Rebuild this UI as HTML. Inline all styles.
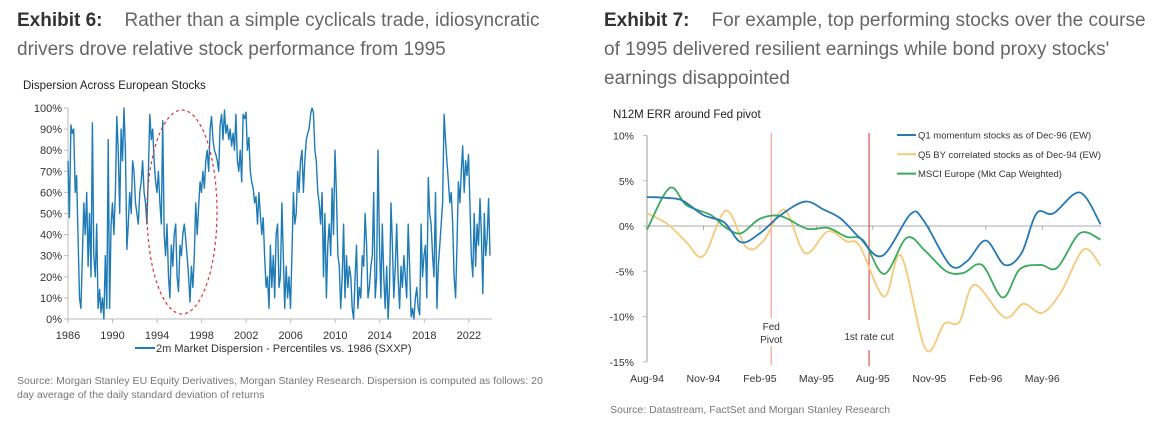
<!DOCTYPE html>
<html><head><meta charset="utf-8"><style>
body{margin:0;width:1166px;height:425px;background:#fff;font-family:"Liberation Sans",sans-serif;position:relative;overflow:hidden}
.t{position:absolute;font-size:19px;color:#666;line-height:29px;letter-spacing:0px}
.t b{color:#333;margin-right:22px}
.src{position:absolute;font-size:10.5px;color:#777;line-height:14px}
svg{position:absolute;left:0;top:0}
</style></head><body>
<div class="t" style="left:17px;top:6px;width:560px"><b>Exhibit 6:</b>Rather than a simple cyclicals trade, idiosyncratic drivers drove relative stock performance from 1995</div>
<div class="t" style="left:604px;top:6px;width:545px"><b>Exhibit 7:</b>For example, top performing stocks over the course of 1995 delivered resilient earnings while bond proxy stocks' earnings disappointed</div>
<div class="src" style="left:17px;top:374px;width:530px">Source: Morgan Stanley EU Equity Derivatives, Morgan Stanley Research. Dispersion is computed as follows: 20 day average of the daily standard deviation of returns</div>
<div class="src" style="left:610px;top:403px">Source: Datastream, FactSet and Morgan Stanley Research</div>
<svg id="s" width="1166" height="425"></svg>
<script>
const dispYears=[1986,1990,1994,1998,2002,2006,2010,2014,2018,2022];
const dispTicks=[0,10,20,30,40,50,60,70,80,90,100];
const dispValues=[75,48,92,88,90,60,68,40,10,5,30,55,40,60,25,50,20,93,30,20,45,5,14,3,10,0,30,5,85,5,45,55,40,60,96,80,50,90,75,100,80,33,45,60,50,75,70,55,50,45,60,65,75,60,55,45,70,97,85,90,75,65,60,70,55,45,94,40,30,45,20,10,35,25,40,45,20,13,35,30,40,45,38,30,20,8,25,15,30,55,40,53,65,60,70,62,75,80,70,90,96,85,80,78,75,70,92,97,85,99,88,92,85,90,82,88,80,97,75,70,80,65,97,95,98,80,86,70,65,62,55,58,45,60,50,40,48,30,15,20,5,35,15,30,10,40,45,15,20,55,30,5,25,10,20,5,30,60,45,50,70,60,75,80,60,75,85,88,90,97,100,98,80,75,60,55,45,60,20,50,10,35,45,30,62,40,80,60,30,25,5,20,45,10,30,15,25,20,5,0,20,35,5,15,10,30,25,50,35,10,15,25,30,60,10,20,80,35,10,45,20,5,25,0,15,55,35,10,25,45,20,5,25,15,30,20,10,45,25,1,5,0,10,15,5,2,45,20,30,35,10,67,50,45,30,20,60,5,25,35,45,55,97,85,75,65,55,60,45,20,10,35,65,55,70,82,60,75,68,78,55,30,20,50,25,45,35,57,40,12,50,30,38,57,30];
const dispStart=1986, dispEnd=2023.9;

const errMonthLabels=["Aug-94","Nov-94","Feb-95","May-95","Aug-95","Nov-95","Feb-96","May-96"];
const errTicks=[10,5,0,-5,-10,-15];
const q1Months=[0,1.1,1.9,3.0,4.1,5.0,6.0,7.1,8.4,9.4,10.3,11.3,12.5,14.0,14.7,16.1,17.0,18.0,19.0,19.9,20.7,21.6,23.0,24.1];
const q1Values=[3.2,3.1,2.8,1.2,0.4,-1.8,-0.8,1.2,2.7,1.8,0.8,-1.3,-3.3,1.3,0.6,-4.3,-3.9,-1.6,-4.3,-3.0,1.4,1.4,3.7,0.2];
const q5Months=[0,1.1,2.1,3.0,4.2,5.3,6.2,7.3,8.4,9.6,10.6,11.3,12.6,13.5,14.8,15.8,16.6,17.4,19.0,20.0,21.0,22.0,23.2,24.1];
const q5Values=[1.4,0.2,-1.8,-3.3,1.7,-2.4,-1.6,1.8,-3.0,-0.6,-1.7,-2.2,-7.8,-3.3,-13.6,-10.8,-10.6,-6.5,-10.1,-8.6,-9.6,-7.3,-2.6,-4.4];
const msciMonths=[0,1.2,2.1,3.4,4.2,5.0,6.0,7.1,8.5,9.6,10.6,11.5,12.6,13.8,14.8,15.9,16.8,17.8,18.9,19.8,20.9,21.8,23.0,24.1];
const msciValues=[-0.4,4.2,2.3,1.2,-0.2,-0.8,0.8,1.1,-0.3,-0.2,-1.2,-1.6,-5.3,-1.3,-2.8,-5.0,-5.2,-4.3,-7.9,-4.8,-4.3,-4.6,-0.8,-1.5];
const fedPivotMonth=6.6, rateCutMonth=11.8;

const NS="http://www.w3.org/2000/svg", svg=document.getElementById('s');
function mk(t,a,txt){const e=document.createElementNS(NS,t);for(const k in a)e.setAttribute(k,a[k]);if(txt!=null)e.textContent=txt;svg.appendChild(e);return e;}
const lx=y=>68+(y-1986)*(490-68)/(2023.9-1986), ly=v=>319-v*2.11;
let e=mk('text',{x:23,y:89,'font-size':11.5,fill:'#222'},'Dispersion Across European Stocks');


dispTicks.forEach(t=>{let e=mk('text',{x:62,y:ly(t)+4,'font-size':11,fill:'#333','text-anchor':'end'},t+'%');


mk('line',{x1:64,x2:68,y1:ly(t),y2:ly(t),stroke:'#bbb'});});
mk('line',{x1:68,x2:68,y1:ly(100),y2:ly(0),stroke:'#bbb'});
mk('line',{x1:68,x2:492,y1:ly(0),y2:ly(0),stroke:'#bbb'});
dispYears.forEach(y=>{let e=mk('text',{x:lx(y),y:339,'font-size':11,fill:'#333','text-anchor':'middle'},y);


mk('line',{x1:lx(y),x2:lx(y),y1:319,y2:323,stroke:'#bbb'});});
let pts=dispValues.map((v,i)=>lx(dispStart+i*(dispEnd-dispStart)/(dispValues.length-1)).toFixed(1)+','+ly(v).toFixed(1));
e=mk('polyline',{points:pts.join(' '),fill:'none',stroke:'#1f7bb6','stroke-width':1.4,'stroke-linejoin':'round'});


e=mk('ellipse',{cx:182,cy:212,rx:35,ry:102,fill:'none',stroke:'#e03030','stroke-width':1.2,'stroke-dasharray':'3,3'});


mk('line',{x1:135,x2:155,y1:348,y2:348,stroke:'#1f7bb6','stroke-width':2});
e=mk('text',{x:156,y:352,'font-size':11,fill:'#333'},'2m Market Dispersion - Percentiles vs. 1986 (SXXP)');


const rx=m=>647+m*18.82, ry=v=>226-v*9.05;
e=mk('text',{x:613,y:118,'font-size':11.5,fill:'#222'},'N12M ERR around Fed pivot');


mk('line',{x1:647,x2:647,y1:ry(10),y2:ry(-15),stroke:'#bbb','stroke-width':1.5});
errTicks.forEach(t=>{let e=mk('text',{x:634,y:ry(t)+4,'font-size':10.5,fill:'#333','text-anchor':'end'},t+'%');


mk('line',{x1:643,x2:647,y1:ry(t),y2:ry(t),stroke:'#bbb'});});
mk('line',{x1:647,x2:1102,y1:ry(0),y2:ry(0),stroke:'#aaa'});
errMonthLabels.forEach((l,i)=>{let e=mk('text',{x:rx(i*3),y:382,'font-size':10.5,fill:'#333','text-anchor':'middle'},l);


mk('line',{x1:rx(i*3),x2:rx(i*3),y1:ry(0),y2:ry(0)+4,stroke:'#aaa'});});
mk('line',{x1:rx(fedPivotMonth),x2:rx(fedPivotMonth),y1:133,y2:318,stroke:'#f0907a','stroke-width':1});
mk('line',{x1:rx(fedPivotMonth),x2:rx(fedPivotMonth),y1:346,y2:365,stroke:'#f0907a','stroke-width':1});
mk('line',{x1:rx(rateCutMonth),x2:rx(rateCutMonth),y1:133,y2:320,stroke:'#d83030','stroke-width':1});
mk('line',{x1:rx(rateCutMonth),x2:rx(rateCutMonth),y1:350,y2:366,stroke:'#d83030','stroke-width':1});
e=mk('text',{x:rx(fedPivotMonth),y:330,'font-size':10,fill:'#333','text-anchor':'middle'},'Fed');


mk('text',{x:rx(fedPivotMonth),y:343,'font-size':10,fill:'#333','text-anchor':'middle'},'Pivot');
e=mk('text',{x:rx(rateCutMonth),y:340,'font-size':10,fill:'#333','text-anchor':'middle'},'1st rate cut');


function smooth(ms,vs){const p=ms.map((m,i)=>[rx(m),ry(vs[i])]);let d='M'+p[0][0]+','+p[0][1];
for(let i=0;i<p.length-1;i++){const a=p[i-1]||p[i],b=p[i],c=p[i+1],n=p[i+2]||c;
d+=' C'+(b[0]+(c[0]-a[0])/6)+','+(b[1]+(c[1]-a[1])/6)+' '+(c[0]-(n[0]-b[0])/6)+','+(c[1]-(n[1]-b[1])/6)+' '+c[0]+','+c[1];}return d;}
[[q5Months,q5Values,'#f5c978','q5-line'],[msciMonths,msciValues,'#3aaa5c','msci-line'],[q1Months,q1Values,'#2479b4','q1-line']].forEach(s=>{
let e=mk('path',{d:smooth(s[0],s[1]),fill:'none',stroke:s[2],'stroke-width':1.8});

});
[['Q1 momentum stocks as of Dec-96 (EW)','#2479b4'],['Q5 BY correlated stocks as of Dec-94 (EW)','#f5c978'],['MSCI Europe (Mkt Cap Weighted)','#3aaa5c']].forEach((l,i)=>{
const y=135+i*19.3;mk('line',{x1:897,x2:916,y1:y,y2:y,stroke:l[1],'stroke-width':2});
let e=mk('text',{x:918,y:y+3.5,'font-size':9.5,fill:'#333'},l[0]);

});
</script>
</body></html>
